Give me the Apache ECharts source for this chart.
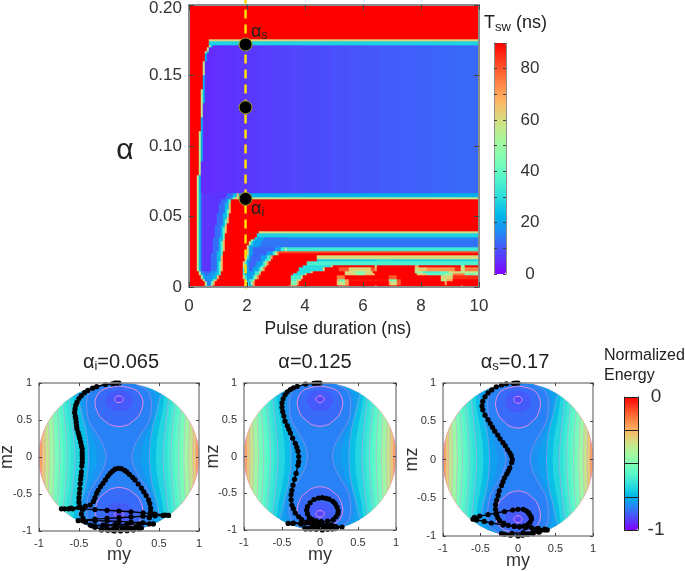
<!DOCTYPE html>
<html>
<head>
<meta charset="utf-8">
<style>html,body{margin:0;padding:0;background:#fff}#c{width:685px;height:571px;filter:blur(0.45px)}</style>
<script src="https://cdn.jsdelivr.net/npm/echarts@6/dist/echarts.min.js"></script>
</head>
<body>
<div id="c"></div>
<script>
// ---------- palette ----------
var rainbow = ['#8000ff','#5542fd','#2a80f6','#00b4eb','#2adddd','#55f6ca','#80ffb4','#aaf69b','#d4dd80','#ffb462','#ff8042','#ff4221','#ff0000'];

// ---------- top map: switching time (ns) ----------
var pulseTicks = [0,2,4,6,8,10];
var alphaTicks = [0,0.05,0.10,0.15,0.20];
var bodyTail = [[0.8,5],[1.2,5.4],[1.6,5.8],[2,6.2],[2.4,6.6],[2.8,7],[3.2,7.4],[3.6,7.8],[4,8.2],[4.5,8.6],[5,9],[5.5,9.4],[6,9.8],[6.6,10.2],[7.2,10.6],[7.8,11],[8.4,11.4],[9.2,11.8],[10,12.3]];
var bodyLeft = [[33,0.31],[40,0.33],[45,0.35],[50,0.37],[55,0.38],[60,0.40],[65,0.43],[70,0.45],[75,0.48],[80,0.53],[83,0.58],[84,0.62],[85,0.71]];
// [row, left edge, right edge] of the first lower wedge
var wedgeA = [[0,0.58,0.7],[1,0.55,0.78],[2,0.48,0.86],[3,0.42,0.94],[4,0.36,1.02],[5,0.33,1.03],[6,0.31,1.05],[7,0.31,1.05],[8,0.31,1.06],[9,0.31,1.07],[10,0.31,1.08],[11,0.31,1.09],[12,0.31,1.1],[13,0.31,1.11],[14,0.31,1.12],[15,0.31,1.13],[16,0.31,1.15],[17,0.31,1.16],[18,0.31,1.17],[19,0.31,1.19],[20,0.31,1.2],[21,0.31,1.22],[22,0.31,1.24],[23,0.31,1.26],[24,0.31,1.28],[25,0.31,1.3],[26,0.31,1.32],[27,0.31,1.33],[28,0.31,1.35],[29,0.31,1.36],[30,0.31,1.38],[31,0.31,1.55],[32,0.31,1.63]];
// [row, left edge, right edge] of the second wedge
var wedgeB = [[0,2.0,2.15],[1,1.95,2.15],[2,1.9,2.2],[3,1.87,2.3],[4,1.84,2.38],[5,1.84,2.4],[6,1.84,2.5],[7,1.86,2.6],[8,1.89,2.65],[9,1.92,2.75],[10,1.95,2.8],[11,2.0,3.0],[12,2.0,3.0],[13,2.0,3.3]];
var blueBand = [[14,2.0],[15,2.09],[16,2.15],[17,2.25]];
var lowTails = {
 0:[[3.45,90],[3.7,72],[5.2,90],[5.5,80],[6.4,90],[6.5,70],[7.0,90],[7.2,85],[9.35,90],[9.45,70],[10,90]],
 1:[[3.5,90],[3.7,45],[3.8,70],[5.1,90],[5.3,60],[5.4,50],[5.5,70],[6.9,90],[7.0,70],[7.2,60],[7.3,80],[8.8,90],[8.9,70],[10,90]],
 2:[[3.55,90],[3.75,38],[3.85,62],[5.1,90],[5.2,70],[5.4,40],[5.5,70],[6.9,88],[7.2,45],[7.3,80],[8.7,90],[8.9,55],[9.1,70],[10,90]],
 3:[[3.55,90],[3.85,35],[3.95,62],[5.1,90],[5.4,75],[6.9,90],[7.2,80],[8.7,90],[9.1,62],[10,85]],
 4:[[3.6,90],[4.0,30],[4.1,62],[5.4,90],[5.8,62],[6.1,48],[6.4,65],[7.85,90],[8.2,62],[8.8,40],[9.1,50],[9.5,75],[10,45]],
 5:[[3.7,90],[4.2,30],[4.3,62],[5.4,90],[5.7,60],[6.1,45],[6.35,60],[7.8,90],[8.1,50],[8.6,35],[9.0,40],[9.4,60],[10,55]],
 6:[[3.8,90],[4.6,30],[4.7,62],[5.2,90],[5.5,80],[6.3,62],[6.4,80],[6.5,70],[7.8,90],[7.9,60],[8.2,65],[9.2,72],[9.4,85],[9.5,60],[10,75]],
 7:[[3.9,90],[4.9,30],[5.0,62],[6.4,90],[6.5,55],[7.8,90],[7.9,70],[9.4,90],[9.5,50],[10,90]],
 8:[[4.1,90],[10,36]],
 9:[[4.4,90],[6.5,27],[7,30],[10,28]],
 10:[[4.4,90],[10,60]],
 11:[[10,90]],
 12:[[10,82]],
 13:[[10,34]],
 18:[[2.35,90],[10,28]],
 19:[[2.4,90],[10,60]]
};

// ---------- energy contours of the sphere projection, one quadrant [my, mz] ----------
var unitArc = [[1,0],[0.995,0.105],[0.978,0.208],[0.951,0.309],[0.914,0.407],[0.866,0.5],[0.809,0.588],[0.743,0.669],[0.669,0.743],[0.588,0.809],[0.5,0.866],[0.407,0.914],[0.309,0.951],[0.208,0.978],[0.105,0.995],[0,1]];
// [normalized energy, drawn line?, curve]
var columnContours = [
 [-0.22,1,[[0.99,0],[0.992,0.12]]],
 [-0.30,1,[[0.96,0],[0.965,0.2],[0.965,0.26]]],
 [-0.37,1,[[0.92,0],[0.925,0.2],[0.925,0.37]]],
 [-0.44,1,[[0.87,0],[0.875,0.2],[0.88,0.4],[0.885,0.46]]],
 [-0.51,1,[[0.81,0],[0.815,0.2],[0.82,0.4],[0.83,0.55]]],
 [-0.53,0,[[0.775,0],[0.78,0.2],[0.79,0.4],[0.80,0.59]]],
 [-0.56,1,[[0.74,0],[0.745,0.2],[0.755,0.4],[0.77,0.6],[0.775,0.63]]],
 [-0.59,0,[[0.695,0],[0.70,0.2],[0.715,0.4],[0.73,0.6],[0.74,0.67]]],
 [-0.62,1,[[0.65,0],[0.655,0.2],[0.67,0.4],[0.69,0.6],[0.70,0.71]]],
 [-0.65,0,[[0.60,0],[0.61,0.2],[0.625,0.4],[0.65,0.6],[0.66,0.75]]],
 [-0.68,1,[[0.55,0],[0.56,0.2],[0.58,0.4],[0.60,0.6],[0.62,0.78]]],
 [-0.73,0,[[0.46,0],[0.47,0.2],[0.50,0.4],[0.54,0.6],[0.57,0.82]]],
 [-0.78,1,[[0.38,0],[0.39,0.2],[0.42,0.4],[0.47,0.6],[0.51,0.8],[0.53,0.85]]],
 [-0.805,0,[[0.27,0],[0.29,0.14],[0.34,0.3],[0.42,0.5],[0.46,0.7],[0.44,0.85],[0.38,0.92]]],
 [-0.83,1,[[0.16,0],[0.19,0.14],[0.24,0.25],[0.28,0.32],[0.36,0.455],[0.39,0.55],[0.40,0.635],[0.405,0.72],[0.40,0.79],[0.375,0.86],[0.34,0.915],[0.24,0.97]]]
];
var wellContours = [
 [-0.86,1,[[0,0.41],[0.06,0.42],[0.12,0.44],[0.18,0.49],[0.24,0.545],[0.28,0.63],[0.30,0.725],[0.285,0.81],[0.24,0.88],[0.18,0.92],[0.11,0.94],[0,0.96]]],
 [-0.885,0,[[0,0.62],[0.1,0.64],[0.17,0.73],[0.13,0.86],[0,0.9]]],
 [-0.91,1,[[0,0.735],[0.035,0.745],[0.055,0.78],[0.035,0.815],[0,0.825]]]
];

// ---------- trajectories [my, mz] ----------
var trajI = [[0,1],[-0.03,1],[-0.05,1],[-0.08,0.99],[-0.17,0.98],[-0.28,0.95],[-0.33,0.93],[-0.39,0.90],[-0.43,0.87],[-0.47,0.83],[-0.5,0.79],[-0.525,0.74],[-0.54,0.70],[-0.55,0.65],[-0.555,0.60],[-0.545,0.55],[-0.54,0.52],[-0.535,0.47],[-0.53,0.42],[-0.525,0.38],[-0.51,0.33],[-0.5,0.29],[-0.49,0.25],[-0.48,0.2],[-0.47,0.15],[-0.46,0.11],[-0.46,0.06],[-0.46,0.02],[-0.458,-0.02],[-0.46,-0.07],[-0.465,-0.12],[-0.47,-0.2],[-0.475,-0.25],[-0.48,-0.3],[-0.485,-0.36],[-0.49,-0.43],[-0.495,-0.49],[-0.5,-0.55],[-0.5,-0.61],[-0.49,-0.67],[-0.47,-0.77],[-0.45,-0.83],[-0.42,-0.88],[-0.36,-0.92],[-0.3,-0.95],[-0.22,-0.975],[-0.14,-0.99],[-0.06,-1],[0.02,-1],[0.1,-0.995],[0.18,-0.985],[0.25,-0.97],[0.19,-0.96],[0.1,-0.97],[0.02,-0.975],[-0.08,-0.985],[-0.22,-0.985],[-0.15,-0.97],[-0.05,-0.96],[0.05,-0.96],[0.15,-0.96],[0.28,-0.96],[0.22,-0.945],[0.1,-0.94],[-0.04,-0.93],[-0.16,-0.93],[-0.3,-0.93],[-0.34,-0.93],[-0.2,-0.92],[-0.05,-0.915],[0.1,-0.91],[0.25,-0.905],[0.38,-0.905],[0.43,-0.905],[0.3,-0.89],[0.15,-0.88],[0,-0.87],[-0.15,-0.865],[-0.3,-0.86],[-0.45,-0.86],[-0.51,-0.86],[-0.46,-0.855],[-0.3,-0.84],[-0.15,-0.83],[0,-0.82],[0.15,-0.81],[0.3,-0.8],[0.45,-0.795],[0.55,-0.79],[0.62,-0.79],[0.58,-0.785],[0.45,-0.77],[0.3,-0.755],[0.15,-0.74],[0,-0.73],[-0.15,-0.72],[-0.3,-0.71],[-0.45,-0.705],[-0.58,-0.70],[-0.63,-0.70],[-0.68,-0.70],[-0.72,-0.70],[-0.6,-0.69],[-0.5,-0.68],[-0.42,-0.665],[-0.36,-0.65],[-0.32,-0.60],[-0.30,-0.55],[-0.28,-0.49],[-0.26,-0.45],[-0.23,-0.40],[-0.2,-0.355],[-0.17,-0.31],[-0.14,-0.26],[-0.11,-0.22],[-0.08,-0.19],[-0.05,-0.165],[-0.01,-0.153],[0.03,-0.158],[0.07,-0.18],[0.096,-0.2],[0.13,-0.235],[0.17,-0.275],[0.2,-0.31],[0.24,-0.365],[0.28,-0.42],[0.31,-0.47],[0.34,-0.52],[0.37,-0.58],[0.385,-0.63],[0.395,-0.69],[0.396,-0.74],[0.39,-0.78],[0.38,-0.82]];

var trajM = [[0,1],[-0.03,1],[-0.05,1],[-0.08,0.995],[-0.19,0.985],[-0.3,0.955],[-0.35,0.935],[-0.39,0.91],[-0.43,0.88],[-0.46,0.84],[-0.485,0.785],[-0.5,0.73],[-0.5,0.67],[-0.49,0.61],[-0.475,0.55],[-0.46,0.48],[-0.43,0.42],[-0.41,0.37],[-0.39,0.32],[-0.36,0.25],[-0.325,0.18],[-0.305,0.125],[-0.29,0.07],[-0.28,0],[-0.28,-0.07],[-0.29,-0.12],[-0.315,-0.23],[-0.335,-0.31],[-0.355,-0.39],[-0.37,-0.46],[-0.38,-0.52],[-0.38,-0.59],[-0.37,-0.66],[-0.35,-0.71],[-0.325,-0.77],[-0.28,-0.82],[-0.24,-0.86],[-0.17,-0.89],[-0.1,-0.91],[-0.02,-0.93],[0.08,-0.94],[0.15,-0.93],[0.1,-0.95],[0,-0.96],[-0.1,-0.97],[-0.19,-0.985],[-0.12,-0.985],[-0.05,-0.99],[0.03,-1],[0.1,-0.99],[0.16,-0.985],[0.2,-0.98],[0.1,-0.97],[-0.02,-0.975],[-0.15,-0.98],[-0.2,-0.97],[-0.05,-0.965],[0.1,-0.965],[0.22,-0.965],[0.29,-0.96],[0.2,-0.95],[0.05,-0.94],[-0.1,-0.93],[-0.25,-0.92],[-0.36,-0.91],[-0.42,-0.91],[-0.35,-0.905],[-0.25,-0.905],[-0.12,-0.90],[0,-0.895],[0.1,-0.88],[0.175,-0.86],[0.21,-0.82],[0.235,-0.78],[0.24,-0.74],[0.225,-0.69],[0.2,-0.645],[0.17,-0.61],[0.12,-0.58],[0.08,-0.57],[0.03,-0.56],[-0.02,-0.565],[-0.08,-0.585],[-0.13,-0.63],[-0.165,-0.68],[-0.175,-0.73],[-0.165,-0.78],[-0.14,-0.83],[-0.1,-0.86],[-0.05,-0.875],[0.02,-0.886]];

var trajS = [[0,1],[-0.03,1],[-0.06,0.995],[-0.155,0.99],[-0.22,0.975],[-0.29,0.95],[-0.35,0.91],[-0.4,0.87],[-0.44,0.82],[-0.47,0.76],[-0.48,0.70],[-0.47,0.65],[-0.44,0.58],[-0.4,0.52],[-0.37,0.47],[-0.34,0.42],[-0.31,0.37],[-0.27,0.32],[-0.24,0.27],[-0.2,0.22],[-0.17,0.18],[-0.14,0.13],[-0.11,0.087],[-0.09,0.05],[-0.075,0],[-0.085,-0.04],[-0.11,-0.11],[-0.13,-0.15],[-0.15,-0.19],[-0.18,-0.24],[-0.2,-0.29],[-0.22,-0.34],[-0.25,-0.41],[-0.265,-0.47],[-0.285,-0.53],[-0.3,-0.59],[-0.3,-0.65],[-0.29,-0.72],[-0.27,-0.76],[-0.245,-0.8],[-0.19,-0.83],[-0.13,-0.86],[-0.05,-0.87],[0.02,-0.88],[0.1,-0.885],[0.18,-0.89],[0.27,-0.9],[0.355,-0.91],[0.39,-0.92],[0.3,-0.93],[0.2,-0.945],[0.07,-0.957],[-0.08,-0.965],[-0.22,-0.97],[-0.18,-0.98],[-0.1,-0.99],[0,-1],[0.06,-0.99],[0.13,-0.98],[0.2,-0.97],[0.28,-0.95],[0.36,-0.92],[0.25,-0.905],[0.1,-0.89],[-0.05,-0.875],[-0.2,-0.855],[-0.355,-0.83],[-0.45,-0.81],[-0.55,-0.79],[-0.6,-0.78],[-0.58,-0.755],[-0.51,-0.74],[-0.4,-0.72],[-0.29,-0.70],[-0.18,-0.68],[-0.07,-0.66],[0,-0.65],[0.07,-0.65],[0.11,-0.67],[0.14,-0.695],[0.155,-0.72],[0.175,-0.75],[0.18,-0.78],[0.16,-0.82],[0.13,-0.85],[0.08,-0.87],[0.02,-0.88]];

var dashLine = [[1.95,-0.001],[1.95,0.205]];
var markedAlphas = [[1.95,0.172],[1.95,0.1274],[1.95,0.0625]];
var colorbarTicks = [0,20,40,60,80];

// ---------- build the map cells from the rows above ----------
function rowRuns(r){
  var a, b;
  if (r >= 88) return [[10,90]];
  if (r === 87) return [[0.7,90],[10,62]];
  if (r === 86) return [[0.7,90],[10,28]];
  if (r >= 33) {
    var l = 0.31;
    bodyLeft.forEach(function(e){ if (e[0] <= r) l = e[1]; });
    return [[l,90],[l+0.05,55],[l+0.1,22]].concat(bodyTail);
  }
  a = wedgeA[r];
  var runs = [[a[1],90],[a[1]+0.05,55],[a[1]+0.1,24],[a[1]+0.2,r<6?16:9],[a[2]-0.3,r<6?12:6],[a[2]-0.1,r<6?18:13],[a[2],24],[a[2]+0.05,38],[a[2]+0.1,66]];
  if (r === 32) return runs.concat([[10,22]]);
  if (r === 31) return runs.concat([[10,55]]);
  if (r >= 20) return runs.concat([[10,90]]);
  if (lowTails[r] && r >= 18) return runs.concat(lowTails[r]);
  if (r >= 14) {
    b = blueBand[r-14];
    return runs.concat([[b[1],90],[b[1]+0.05,55],[b[1]+0.1,30],[b[1]+0.4,20],[3.4,14],[10,r===17?16:13.5]]);
  }
  b = wedgeB[r];
  return runs.concat([[b[1],90],[b[1]+0.05,60],[b[1]+0.1,34],[b[1]+0.2,20],[b[2]-0.3,r<3?34:12],[b[2]-0.1,20],[b[2],34],[b[2]+0.05,50],[b[2]+0.1,72]]).concat(lowTails[r]);
}
var COLS = 145, ROWS = 141;
var mapCells = [], colIdx = [], rowIdx = [];
for (var c0 = 0; c0 < COLS; c0++) colIdx.push(c0);
for (var j = 0; j < ROWS; j++) {
  rowIdx.push(j);
  var runs = rowRuns(Math.floor((j + 0.5) * 100 / ROWS));
  for (var c = 0; c < COLS; c++) {
    var cx = (c + 0.5) * 10 / COLS, v = 90;
    for (var k = 0; k < runs.length; k++) { if (cx < runs[k][0]) { v = runs[k][1]; break; } }
    mapCells.push([c, j, v]);
  }
}

// ---------- polygons for the energy field ----------
function flipZ(p){ return [p[0],-p[1]]; }
function flipY(p){ return [-p[0],p[1]]; }
function columnRing(curve){
  var end = curve[curve.length-1];
  var q = curve.concat(unitArc.filter(function(p){ return p[0] < end[0]; }));
  var half = q.slice().reverse().map(flipZ).concat(q.slice(1));
  return half.concat(half.slice().reverse().map(flipY));
}
var fieldItems = [[-0.18, 'disc']];
columnContours.forEach(function(c,i){ fieldItems.push([c[0],'col',i]); });
wellContours.forEach(function(c,i){ fieldItems.push([c[0],'well',i]); });
var PINK = '#e08ee4';
function renderField(params, api){
  var kind = api.value(1), idx = api.value(2), kids = [];
  var col = api.visual('color');
  function pts(list){ return list.map(function(p){ return api.coord(p); }); }
  function fill(list, lined){
    kids.push({type:'polygon',silent:true,shape:{points:pts(list)},style:{fill:col,stroke:lined?'#f08cd0':null,lineWidth:lined?1.2:0}});
  }
  function stroke(list){ kids.push({type:'polyline',silent:true,shape:{points:pts(list),smooth:0.25},style:{fill:null,stroke:PINK,lineWidth:0.9,opacity:0.5}}); }
  if (kind === 'disc') {
    fill(columnRing([[1,0]]), true);
  } else if (kind === 'col') {
    var cc = columnContours[idx];
    fill(columnRing(cc[2]), false);
    if (cc[1]) {
      var full = cc[2].slice().reverse().map(flipZ).concat(cc[2].slice(1));
      stroke(full); stroke(full.map(flipY));
    }
  } else {
    var wc = wellContours[idx], ring = wc[2].concat(wc[2].slice(0,-1).reverse().slice(0,-1).map(flipY));
    [ring, ring.map(flipZ)].forEach(function(rg){
      kids.push({type:'polygon',silent:true,shape:{points:pts(rg),smooth:0.3},style:{fill:col,stroke:wc[1]?PINK:null,lineWidth:wc[1]?1:0}});
    });
  }
  return {type:'group',children:kids};
}

// ---------- layout ----------
var FONT = '"Liberation Sans", Arial, sans-serif';
var TXT = '#333';
var grids = [], xAxes = [], yAxes = [], series = [], graphics = [];
var FRAME = '#8c8c8c';
function addGrid(l,t,w,h){ grids.push({left:l,top:t,width:w,height:h,containLabel:false,outerBoundsMode:'none',show:false}); return grids.length-1; }
function valueAxis(g,min,max,interval,pos,o){
  o = o || {};
  return {type:'value',gridIndex:g,min:min,max:max,interval:interval,position:pos,z:10,
    axisLine:{show:true,onZero:false,lineStyle:{color:FRAME,width:o.lw||1.5}},
    axisTick:{show:true,inside:true,length:o.tick||4,lineStyle:{color:'#444',width:1}},
    splitLine:{show:false},
    axisLabel:o.labels?{show:true,fontSize:o.fs,color:TXT,fontFamily:FONT,margin:o.margin,align:o.align,formatter:o.labels,rich:o.rich}:{show:false},
    name:o.name||'',nameLocation:'middle',nameGap:o.gap,nameMoveOverlap:false,nameTextStyle:{fontSize:o.nfs,color:TXT,fontFamily:FONT},
    silent:true};
}
// top map
var gHeat = addGrid(189,5,290,282), gTop = addGrid(189,5,290,282);
xAxes.push({type:'category',gridIndex:gHeat,data:colIdx,show:false});
yAxes.push({type:'category',gridIndex:gHeat,data:rowIdx,show:false});
series.push({type:'heatmap',xAxisIndex:0,yAxisIndex:0,data:mapCells,progressive:0,silent:true,itemStyle:{borderWidth:0},emphasis:{disabled:true}});
var topX = xAxes.length, topY = yAxes.length;
xAxes.push(valueAxis(gTop,0,10,2,'bottom',{fs:17,margin:11,labels:function(v){return String(v);},tick:5,lw:2}));
xAxes.push(valueAxis(gTop,0,10,2,'top',{tick:5,lw:2}));
yAxes.push(valueAxis(gTop,0,0.2,0.05,'left',{fs:17,margin:7,tick:5,lw:2,
  rich:{t:{fontSize:17,color:TXT,fontFamily:FONT,padding:[6,0,0,0]}},
  labels:function(v){ if (v===0) return '0'; return v>=0.2?'{t|0.20}':v.toFixed(2); }}));
yAxes.push(valueAxis(gTop,0,0.2,0.05,'right',{tick:5,lw:2}));
series.push({type:'line',xAxisIndex:topX,yAxisIndex:topY,data:dashLine,symbol:'none',silent:true,z:5,clip:false,lineStyle:{color:'#ffe000',width:2.5,type:[9,6]}});
series.push({type:'scatter',xAxisIndex:topX,yAxisIndex:topY,data:markedAlphas,symbolSize:13,silent:true,z:6,itemStyle:{color:'#000',opacity:1,borderColor:'#a09a20',borderWidth:1}});

// colorbar of the top map
var gBar = addGrid(494,43,12,231);
xAxes.push({type:'value',gridIndex:gBar,min:0,max:1,show:false});
yAxes.push(valueAxis(gBar,0,90,10,'right',{fs:17,margin:24,align:'center',lw:1,tick:3,labels:function(v){return colorbarTicks.indexOf(v)>=0?String(v):'';}}));
yAxes.push(valueAxis(gBar,0,90,10,'left',{lw:1,tick:3}));

// three Bloch projections
var plots = [
 {rect:[39,383,160,148],data:trajI,mz:23,my:15},
 {rect:[244,383,152,147],data:trajM,mz:22,my:16},
 {rect:[443,383,150,153],data:trajS,mz:22,my:16}
];
var fieldSeries = [];
plots.forEach(function(p){
  var g = addGrid(p.rect[0],p.rect[1],p.rect[2],p.rect[3]);
  var xi = xAxes.length, yi = yAxes.length;
  function lb(v){ return v===0?'0':String(v); }
  xAxes.push(valueAxis(g,-1,1,0.5,'bottom',{fs:11,margin:7,labels:lb,tick:3,name:'my',gap:p.my,nfs:18}));
  xAxes.push(valueAxis(g,-1,1,0.5,'top',{tick:3}));
  yAxes.push(valueAxis(g,-1,1,0.5,'left',{fs:11,margin:7,labels:lb,tick:3,name:'mz',gap:p.mz,nfs:18}));
  yAxes.push(valueAxis(g,-1,1,0.5,'right',{tick:3}));
  fieldSeries.push(series.length);
  series.push({type:'custom',xAxisIndex:xi,yAxisIndex:yi,data:fieldItems,renderItem:renderField,silent:true,clip:false,z:2,
    dimensions:['e','kind','idx'],encode:{x:-1,y:-1}});
  series.push({type:'line',xAxisIndex:xi,yAxisIndex:yi,data:p.data,symbol:'circle',symbolSize:5.2,silent:true,z:4,clip:false,
    itemStyle:{color:'#000'},lineStyle:{color:'#000',width:1.4}});
});

// energy colorbar frame
var gBar2 = addGrid(624,397,14,133);
xAxes.push({type:'value',gridIndex:gBar2,min:0,max:1,show:false});
var bar2Axis = valueAxis(gBar2,-1,0,0.25,'right',{fs:19,margin:18,align:'center',lw:1,tick:0,labels:function(v){return v===-1||v===0?String(v):'';}});
bar2Axis.axisLine.lineStyle.color = '#222';
bar2Axis.axisTick.show = false;
bar2Axis.splitLine = {show:true,lineStyle:{color:'#222',width:1}};
yAxes.push(bar2Axis);
var bar2Left = valueAxis(gBar2,-1,0,0.25,'left',{lw:1,tick:0});
bar2Left.axisLine.lineStyle.color = '#222';
bar2Left.axisTick.show = false;
yAxes.push(bar2Left);

// text
function txt(x,y,rich,text,fs,align){
  graphics.push({type:'text',x:x,y:y,z:50,silent:true,style:{text:text,rich:rich,fill:'#222',font:fs+'px '+FONT,textAlign:align||'left',textVerticalAlign:'middle'}});
}
var richBase = function(fs,sub,drop){ return {a:{fontSize:fs,fontFamily:FONT,fill:'#222',color:'#222'},s:{fontSize:sub,fontFamily:FONT,fill:'#222',color:'#222',padding:[drop,0,0,0]}}; };
txt(125,151,null,'α',30,'center');
txt(338,329,null,'Pulse duration (ns)',17.5,'center');
txt(251,32,richBase(18,12,8),'{a|α}{s|s}',18);
txt(251,209,richBase(18,12,8),'{a|α}{s|i}',18);
txt(484,23,richBase(18,13,8),'{a|T}{s|sw}{a| (ns)}',18);
txt(121,362,richBase(20,13,8),'{a|α}{s|i}{a|=0.065}',20,'center');
txt(315,362,richBase(20,13,8),'{a|α=0.125}',20,'center');
txt(515,362,richBase(20,13,8),'{a|α}{s|s}{a|=0.17}',20,'center');
txt(604,356,null,'Normalized',16);
txt(604,376,null,'Energy',16);

var chart = echarts.init(document.getElementById('c'),null,{renderer:'canvas'});
chart.setOption({
  animation:false,
  backgroundColor:'#fff',
  tooltip:{show:false},
  grid:grids,
  xAxis:xAxes,
  yAxis:yAxes,
  visualMap:[
    {type:'continuous',min:0,max:90,seriesIndex:0,dimension:2,left:494,top:43,itemWidth:12,itemHeight:231,padding:0,calculable:false,hoverLink:false,text:null,inRange:{color:rainbow},textStyle:{fontSize:0}},
    {type:'continuous',min:-1,max:0,seriesIndex:fieldSeries,dimension:0,left:624,top:397,itemWidth:14,itemHeight:133,padding:0,calculable:false,hoverLink:false,text:null,inRange:{color:rainbow},textStyle:{fontSize:0}}
  ],
  series:series,
  graphic:{elements:graphics}
});
</script>
</body>
</html>
